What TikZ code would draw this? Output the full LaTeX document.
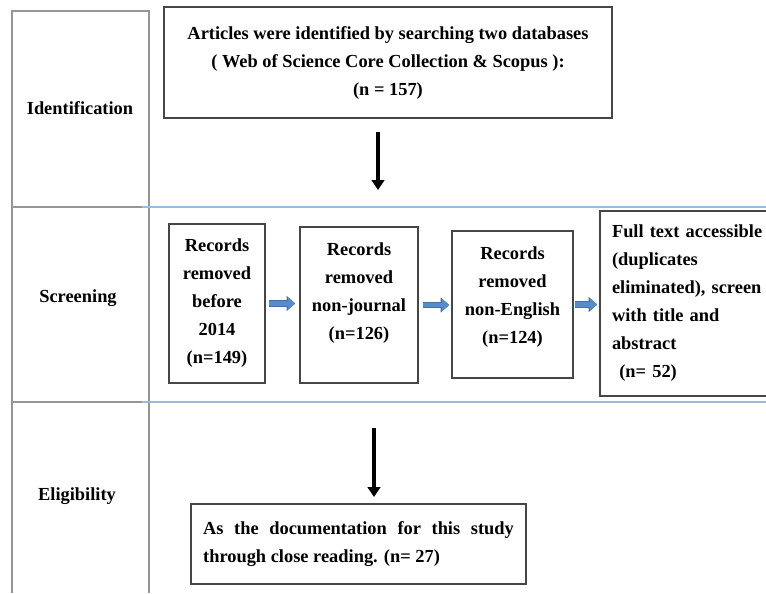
\documentclass[tikz,border=0pt]{standalone}
\usepackage{fontspec}
\setmainfont{Liberation Serif}
\usetikzlibrary{arrows.meta}
\definecolor{gridgray}{RGB}{150,150,150}
\definecolor{rulelblue}{RGB}{150,190,215}
\definecolor{boxgray}{RGB}{70,70,70}
\definecolor{flowblue}{RGB}{84,141,205}

\begin{document}
\begin{tikzpicture}[x=0.75pt,y=-0.75pt,
  every node/.style={font=\fontsize{13.8}{21}\selectfont\bfseries},
  stagebox/.style={draw=boxgray, line width=1.1pt, align=center, inner sep=0pt},
  downarrow/.style={line width=2.4pt, -{Triangle[length=7.5pt,width=9.5pt]}},
  flowarrow/.style={draw=flowblue!80!black, line width=4.8pt, -{Triangle[length=6.5pt,width=11pt]},
    postaction={draw=flowblue, line width=3.4pt, -{Triangle[length=5.5pt,width=9pt]}}}]
\useasboundingbox (0,0) rectangle (766,593);
% stage column
\draw[gridgray, line width=0.9pt] (12,593) -- (12,11) -- (149,11) -- (149,593);
\draw[gridgray, line width=0.9pt] (12,207) -- (149,207);
\draw[gridgray, line width=0.9pt] (12,402) -- (149,402);
\draw[rulelblue, line width=1pt] (142,207) -- (766,207);
\draw[rulelblue, line width=1pt] (142,402) -- (766,402);
\node (ident) at (80,108) {Identification};
\node (screen) at (78,298) {Screening};
\node (elig) at (77,496) {Eligibility};
% boxes
\node[stagebox, minimum width=336pt, minimum height=83.25pt] (search) at (388,62.5)
  {Articles were identified by searching two databases\\( Web of Science Core Collection \& Scopus ):\\(n = 157)};
\node[stagebox, minimum width=72pt, minimum height=119.25pt] (rec1) at (217,303.5)
  {Records\\removed\\before\\2014\\(n=149)};
\node[stagebox, minimum width=88.5pt, minimum height=117pt] (rec2) at (359,305)
  {Records\\removed\\non-journal\\(n=126)\\\mbox{}};
\node[stagebox, minimum width=90.75pt, minimum height=110.25pt] (rec3) at (512.5,304.5)
  {Records\\removed\\non-English\\(n=124)\\[-7pt]\mbox{}};
\node[stagebox, minimum height=138.75pt, align=left,
  text width=126pt, inner xsep=9pt] (full) at (696,303.5)
  {Full text accessible\\(duplicates\\eliminated), screen\\with title and\\abstract\\\hspace*{0.4em}(n= 52)};
\node[stagebox, minimum width=251.25pt, minimum height=60pt, align=justify,
  text width=233pt] (final) at (358.5,544)
  {As the documentation for this study through close reading. (n= 27)};
% arrows
\coordinate (d1s) at (378,132);
\coordinate (d1e) at (378,190);
\coordinate (d2s) at (374,428);
\coordinate (d2e) at (374,497);
\draw[downarrow] (d1s) -- (d1e);
\draw[downarrow] (d2s) -- (d2e);
\draw[flowarrow, shorten <=2.25pt, shorten >=3pt] (rec1.east) -- (rec1.east -| rec2.west);
\draw[flowarrow, shorten <=3pt, shorten >=1.5pt] (rec2.east) -- (rec2.east -| rec3.west);
\draw[flowarrow, shorten <=1pt, shorten >=1.5pt] (rec3.east) -- (rec3.east -| full.west);
\end{tikzpicture}
\end{document}
